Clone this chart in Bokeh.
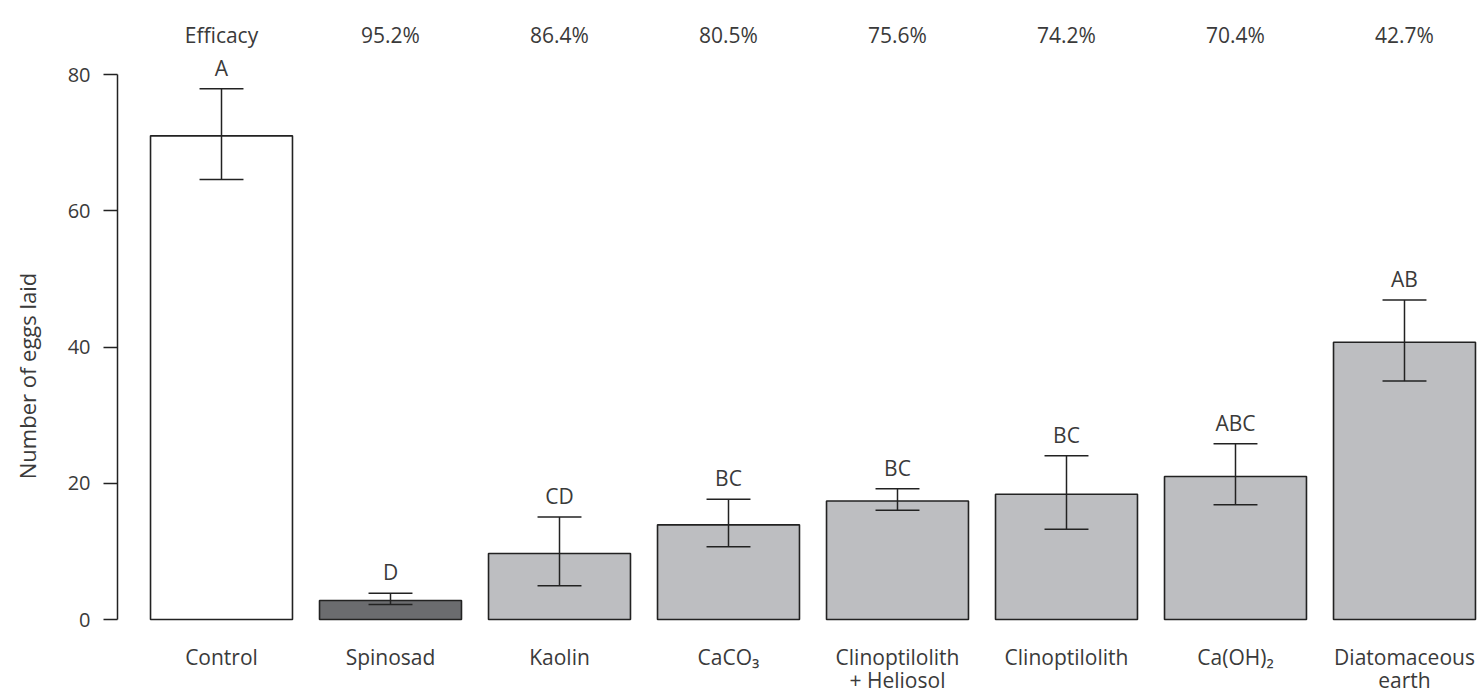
from bokeh.plotting import figure
from bokeh.models import Range1d, LinearAxis, FixedTicker, ColumnDataSource
from bokeh.core.properties import value
from bokeh.embed import file_html
from bokeh.resources import INLINE

# ---- data ----
categories = ["Control", "Spinosad", "Kaolin", "CaCO\u2083", "Clinoptilolith\n+ Heliosol",
              "Clinoptilolith", "Ca(OH)\u2082", "Diatomaceous\nearth"]
efficacy = ["Efficacy", "95.2%", "86.4%", "80.5%", "75.6%", "74.2%", "70.4%", "42.7%"]
means = [71.0, 2.8, 9.7, 13.9, 17.4, 18.4, 21.0, 40.7]
upper = [77.9, 3.85, 15.05, 17.65, 19.2, 24.05, 25.8, 46.9]
lower = [64.6, 2.2, 4.95, 10.7, 16.05, 13.25, 16.85, 35.0]
letters = ["A", "D", "CD", "BC", "BC", "BC", "ABC", "AB"]
y_ticks = [0, 20, 40, 60, 80]
y_title = "Number of eggs laid"

# ---- styles ----
FONT_NAME = "Open Sans"
FONT = value(FONT_NAME)
TXT = "#3a3a3a"
LINE = "#222222"
fills = ["#ffffff", "#6b6c6f"] + ["#bdbec1"] * 6

xs = list(range(len(categories)))

p = figure(width=1477, height=694,
           x_range=Range1d(-0.6154, 7.432), y_range=Range1d(-11.0, 82.5),
           output_backend="svg", toolbar_location=None,
           x_axis_location=None, y_axis_location=None,
           min_border_left=117, min_border_right=0,
           min_border_top=57, min_border_bottom=0)
p.outline_line_color = None
p.xgrid.visible = False
p.ygrid.visible = False
p.background_fill_color = "white"
p.border_fill_color = "white"

# y axis
yax = LinearAxis(ticker=FixedTicker(ticks=y_ticks), bounds=(0, 80))
yax.axis_line_color = LINE
yax.axis_line_width = 1.5
yax.major_tick_line_color = LINE
yax.major_tick_line_width = 1.5
yax.major_tick_out = 14
yax.major_tick_in = 0
yax.minor_tick_line_color = None
yax.major_label_standoff = 13
yax.major_label_text_font = FONT_NAME
yax.major_label_text_font_size = "20px"
yax.major_label_text_color = TXT
yax.axis_label = y_title
yax.axis_label_text_font = FONT_NAME
yax.axis_label_text_font_size = "22px"
yax.axis_label_text_font_style = "normal"
yax.axis_label_text_color = TXT
yax.axis_label_standoff = 23
p.add_layout(yax, "left")

# top axis (efficacy)
tax = LinearAxis(ticker=FixedTicker(ticks=xs),
                 major_label_overrides={i: efficacy[i] for i in xs})
tax.axis_line_color = None
tax.major_tick_line_color = None
tax.minor_tick_line_color = None
tax.major_label_standoff = 3
tax.major_label_text_font = FONT_NAME
tax.major_label_text_font_size = "21px"
tax.major_label_text_color = TXT
p.add_layout(tax, "above")

src = ColumnDataSource(dict(x=xs, top=means, hi=upper, lo=lower, let=letters,
                            fill=fills, cat=categories, base=[0] * len(xs),
                            xl=[x - 0.13 for x in xs], xr=[x + 0.13 for x in xs]))

p.vbar(x="x", top="top", bottom=0, width=0.84, fill_color="fill",
       line_color=LINE, line_width=1.6, source=src)
p.segment(x0="x", y0="lo", x1="x", y1="hi", line_color=LINE, line_width=1.5, source=src)
p.segment(x0="xl", y0="hi", x1="xr", y1="hi", line_color=LINE, line_width=1.5, source=src)
p.segment(x0="xl", y0="lo", x1="xr", y1="lo", line_color=LINE, line_width=1.5, source=src)
p.text(x="x", y="hi", text="let", text_align="center", text_baseline="alphabetic",
       y_offset=-21, text_font=FONT, text_font_size="21px", text_color=TXT, source=src)

# category labels below the bars
p.text(x="x", y="base", text="cat", text_align="center", text_baseline="top",
       y_offset=23, text_line_height=0.85, text_font=FONT, text_font_size="21px",
       text_color=TXT, source=src)

open("out.html", "w").write(file_html(p, INLINE))
